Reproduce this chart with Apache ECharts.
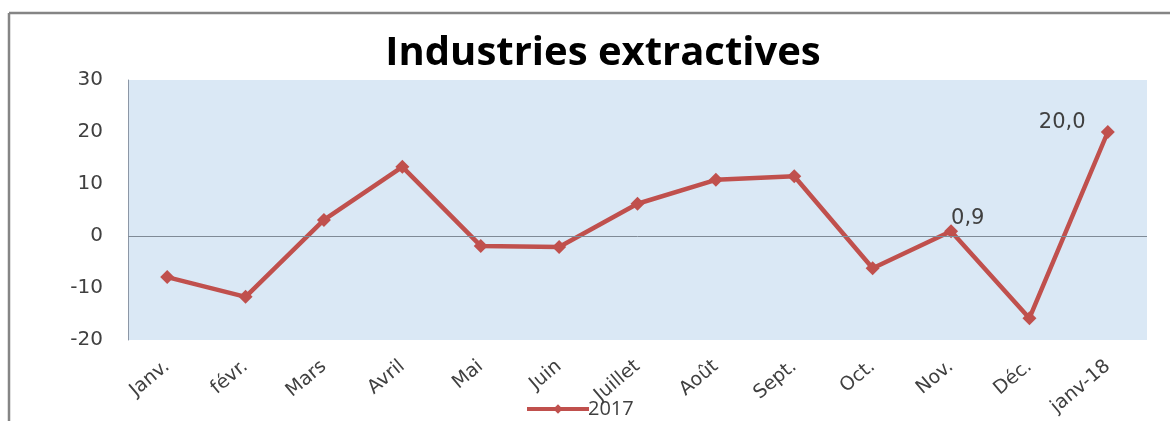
<!DOCTYPE html>
<html>
<head>
<meta charset="utf-8">
<script src="https://cdn.jsdelivr.net/npm/echarts@6/dist/echarts.min.js"></script>
<style>
  html, body { margin: 0; padding: 0; background: #fff; }
  #chart { width: 1170px; height: 421px; }
</style>
</head>
<body>
<div id="chart"></div>
<script>
// Monthly change, extractive industries
const categories = ['Janv.', 'févr.', 'Mars', 'Avril', 'Mai', 'Juin', 'Juillet', 'Août', 'Sept.', 'Oct.', 'Nov.', 'Déc.', 'janv-18'];
const values2017 = [-7.9, -11.7, 3.1, 13.3, -1.9, -2.1, 6.2, 10.8, 11.5, -6.2, 0.9, -15.8, 20.0];
const labelledPoints = ['Nov.', 'janv-18'];
const seriesName = '2017';
const yTicks = { min: -20, max: 30, step: 10 };

const TITLE_FONT = '"Open Sans", "Noto Sans", sans-serif';
const AXIS_FONT = '"DejaVu Sans", "Open Sans", sans-serif';
const TEXT = '#404040';
const RED = '#c0504d';

const chart = echarts.init(document.getElementById('chart'));

const seriesData = values2017.map((v, i) => {
  const item = { value: v };
  if (labelledPoints.includes(categories[i])) {
    const last = i === categories.length - 1;
    item.label = {
      show: true,
      position: last ? [-62, -13] : [7, -16],
      formatter: p => p.value.toFixed(1).replace('.', ','),
      color: TEXT,
      fontSize: 21,
      fontFamily: AXIS_FONT
    };
  }
  return item;
});

chart.setOption({
  animation: false,
  backgroundColor: '#ffffff',
  title: {
    text: 'Industries extractives',
    left: 598,
    top: 29,
    textAlign: 'center',
    textStyle: { fontFamily: TITLE_FONT, fontWeight: 'bold', fontSize: 40, color: '#000' }
  },
  graphic: [
    { type: 'line', shape: { x1: 9, y1: 13, x2: 1170, y2: 13 }, style: { stroke: '#858585', lineWidth: 2.5 } },
    { type: 'line', shape: { x1: 9, y1: 13, x2: 9, y2: 421 }, style: { stroke: '#858585', lineWidth: 2.5 } }
  ],
  legend: {
    bottom: -3,
    left: 520,
    itemWidth: 62,
    itemHeight: 12,
    itemGap: 6,
    lineStyle: { width: 4 },
    textStyle: { fontFamily: TITLE_FONT, fontSize: 20, color: TEXT, padding: [0, 0, 0, -6] },
    data: [seriesName]
  },
  grid: {
    left: 128, right: 23, top: 80, bottom: 81,
    show: true,
    backgroundColor: '#dae8f5',
    borderWidth: 0
  },
  xAxis: {
    type: 'category',
    data: categories,
    boundaryGap: true,
    axisLine: { show: false },
    axisTick: { show: false },
    axisLabel: {
      rotate: 40,
      margin: 24,
      fontFamily: AXIS_FONT,
      fontSize: 19,
      color: TEXT
    }
  },
  yAxis: {
    type: 'value',
    min: yTicks.min,
    max: yTicks.max,
    interval: yTicks.step,
    axisLine: { show: true, lineStyle: { color: '#8c97a6', width: 1 } },
    axisTick: { show: false },
    splitLine: { show: false },
    axisLabel: {
      margin: 25,
      fontFamily: AXIS_FONT,
      fontSize: 20,
      color: TEXT
    }
  },
  series: [{
    name: seriesName,
    type: 'line',
    data: seriesData,
    symbol: 'diamond',
    symbolSize: 14,
    itemStyle: { color: RED },
    lineStyle: { color: RED, width: 4.5 },
    markLine: {
      silent: true,
      symbol: 'none',
      label: { show: false },
      lineStyle: { color: '#7f8a96', width: 1, type: 'solid' },
      data: [{ yAxis: 0 }]
    },
    z: 3
  }]
});
</script>
</body>
</html>
